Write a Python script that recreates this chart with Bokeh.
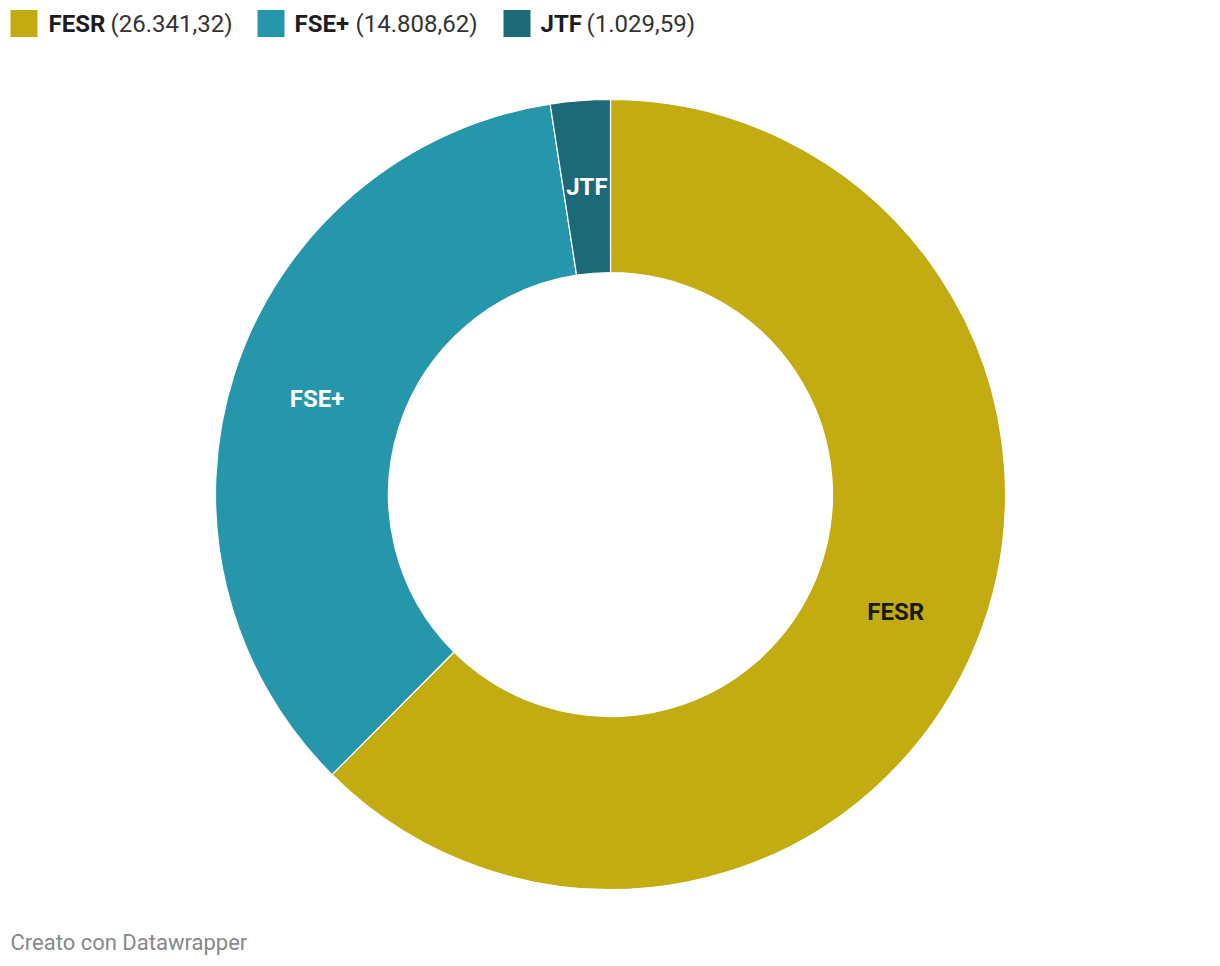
import numpy as np
from bokeh.plotting import figure
from bokeh.models import Range1d
from bokeh.core.properties import value
from bokeh.embed import file_html
from bokeh.resources import INLINE

# ---- data ----
categories = ["FESR", "FSE+", "JTF"]
values = [26341.32, 14808.62, 1029.59]
value_labels = ["(26.341,32)", "(14.808,62)", "(1.029,59)"]
colors = ["#c3ac12", "#2696aa", "#1c6a78"]
label_colors = ["#1a1a1a", "#ffffff", "#ffffff"]

W, H = 1204, 958
FONT = "Roboto"

def sx(x):  # screen x -> data x
    return x

def sy(y):  # screen y -> data y
    return H - y

p = figure(width=W, height=H, output_backend="svg", toolbar_location=None,
           x_range=Range1d(0, W), y_range=Range1d(0, H), min_border=0)
p.axis.visible = False
p.grid.visible = False
p.outline_line_color = None
p.background_fill_color = "white"
p.border_fill_color = "white"

# donut geometry
cx, cy = sx(610), sy(494)
r_out, r_in = 395, 222

vals = np.array(values, dtype=float)
frac = vals / vals.sum()
ang = frac * 2 * np.pi
cum = np.concatenate([[0], np.cumsum(ang)])
start = np.pi / 2 - cum[:-1]
end = np.pi / 2 - cum[1:]

p.annular_wedge(x=[cx] * 3, y=[cy] * 3, inner_radius=r_in, outer_radius=r_out,
                start_angle=list(start), end_angle=list(end), direction="clock",
                fill_color=colors, line_color="white", line_width=1.2)

# slice labels at mid angle, mid radius
mid = (start + end) / 2
r_mid = (r_in + r_out) / 2
lx = cx + r_mid * np.cos(mid)
ly = cy + r_mid * np.sin(mid)
p.text(x=list(lx), y=list(ly), text=categories, text_color=label_colors,
       text_font=value(FONT), text_font_style="bold", text_font_size="24px",
       text_align="center", text_baseline="middle")

# legend
sq_x = [10, 257, 503]
name_x = [48, 294, 540]
val_x = [110, 355, 586]
leg_y = sy(23)
p.rect(x=[sx(v + 13.5) for v in sq_x], y=[leg_y] * 3, width=27, height=27,
       fill_color=colors, line_color=None)
p.text(x=[sx(v) for v in name_x], y=[leg_y] * 3, text=categories,
       text_color="#1d1d1d", text_font=value(FONT), text_font_style="bold",
       text_font_size="24px", text_align="left", text_baseline="middle")
p.text(x=[sx(v) for v in val_x], y=[leg_y] * 3, text=value_labels,
       text_color="#333333", text_font=value(FONT),
       text_font_size="24px", text_align="left", text_baseline="middle")

# footer
p.text(x=[sx(10)], y=[sy(942)], text=["Creato con Datawrapper"],
       text_color="#888888", text_font=value(FONT), text_font_size="22px",
       text_align="left", text_baseline="middle")

open("out.html", "w").write(file_html(p, INLINE))
